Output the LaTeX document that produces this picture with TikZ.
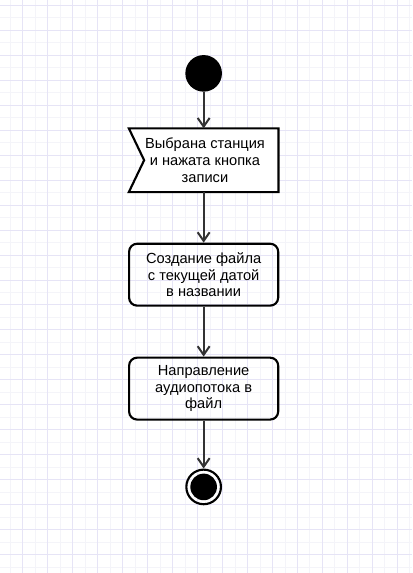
\documentclass[tikz,border=0pt]{standalone}
\usepackage{fontspec}
\setmainfont{Liberation Sans}
\usetikzlibrary{arrows.meta,positioning}
\tikzset{>={Straight Barb[length=6.5pt,width=9pt]}}
\definecolor{gridmajor}{HTML}{E6E4F6}
\definecolor{gridminor}{HTML}{F4F4F9}
\definecolor{flowline}{HTML}{333333}

\tikzset{
  action/.style={rectangle, rounded corners=6pt, draw, line width=1.6pt,
    minimum width=112pt, minimum height=46.5pt, align=center,
    font=\fontsize{11}{12.5}\selectfont},
  event/.style={rectangle, minimum width=112pt, minimum height=47.5pt,
    align=center, font=\fontsize{11}{12.5}\selectfont},
  flow/.style={->, line width=1.5pt, flowline}
}

\begin{document}
\begin{tikzpicture}[x=0.75pt,y=-0.75pt]

  % background grid
  \fill[white] (0,0) rectangle (412,573);
  \foreach \x in {10,35,...,410} \draw[gridminor, line width=0.75pt] (\x,0) -- (\x,573);
  \foreach \y in {17.5,42.5,...,573} \draw[gridminor, line width=0.75pt] (0,\y) -- (412,\y);
  \foreach \x in {22.5,47.5,...,410} \draw[gridmajor, line width=0.75pt] (\x,0) -- (\x,573);
  \foreach \y in {5,30,...,573} \draw[gridmajor, line width=0.75pt] (0,\y) -- (412,\y);
  \useasboundingbox (0,0) rectangle (412,573);

  \node[circle, fill=black, minimum size=27.5pt, inner sep=0pt] (start) at (203.5,73) {};

  \node[event] (chosen) at (203.5,160) {};
  \draw[line width=1.6pt, fill=white]
    (chosen.north west) -- (chosen.north east) -- (chosen.south east)
    -- (chosen.south west) -- ([xshift=11.5pt]chosen.west) -- cycle;
  \node[event, xshift=1pt] at (chosen.center) {Выбрана станция\\и нажата кнопка\\записи};

  \node[action, below=38pt of chosen] (create) {Создание файла\\с текущей датой\\в названии};
  \node[action, below=37.5pt of create] (stream) {Направление\\аудиопотока в\\файл};

  \node[circle, draw, line width=1.6pt, minimum size=26pt, inner sep=0pt, below=36pt of stream] (stop) {};
  \fill (stop.center) circle[radius=10pt];

  \draw[flow] (start) -- (chosen);
  \draw[flow] (chosen) -- (create);
  \draw[flow] (create) -- (stream);
  \draw[flow] (stream) -- (stop);

\end{tikzpicture}
\end{document}
